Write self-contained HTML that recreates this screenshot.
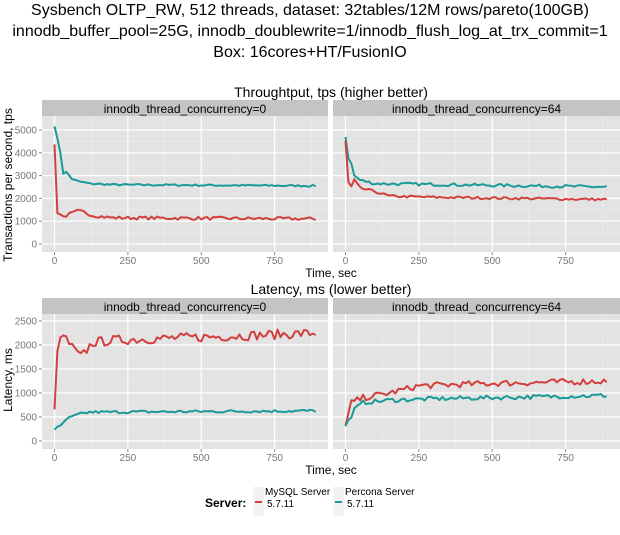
<!DOCTYPE html>
<html><head><meta charset="utf-8"><style>
body{margin:0;background:#fff;width:620px;height:530px;overflow:hidden}
text{font-family:"Liberation Sans",sans-serif}
</style></head><body>
<svg id="s" width="620" height="530" xmlns="http://www.w3.org/2000/svg">
<text x="310" y="15" font-size="16" text-anchor="middle">Sysbench OLTP_RW, 512 threads, dataset: 32tables/12M rows/pareto(100GB)</text>
<text x="310" y="36" font-size="16" text-anchor="middle">innodb_buffer_pool=25G, innodb_doublewrite=1/innodb_flush_log_at_trx_commit=1</text>
<text x="310" y="57" font-size="16" text-anchor="middle">Box: 16cores+HT/FusionIO</text>
<text x="331" y="97" font-size="14" text-anchor="middle">Throughtput, tps (higher better)</text>
<text x="331" y="294" font-size="14" text-anchor="middle">Latency, ms (lower better)</text>
<text x="331" y="277" font-size="12" text-anchor="middle">Time, sec</text>
<text x="331" y="474" font-size="12" text-anchor="middle">Time, sec</text>
<text transform="translate(12,185) rotate(-90)" font-size="12" text-anchor="middle">Transactions per second, tps</text>
<text transform="translate(12,380) rotate(-90)" font-size="12" text-anchor="middle">Latency, ms</text>
<text x="205" y="507" font-size="12" font-weight="bold">Server:</text>
<rect x="253" y="487" width="11" height="29" fill="#f2f2f2"/>
<line x1="255" y1="502" x2="262" y2="502" stroke="#d2403e" stroke-width="2"/>
<text x="265" y="495" font-size="10">MySQL Server</text>
<text x="267" y="507" font-size="10">5.7.11</text>
<rect x="333" y="487" width="11" height="29" fill="#f2f2f2"/>
<line x1="335" y1="502" x2="342" y2="502" stroke="#1a9a98" stroke-width="2"/>
<text x="345" y="495" font-size="10">Percona Server</text>
<text x="347" y="507" font-size="10">5.7.11</text>
<g id="g"></g>
</svg>
<script>
var NS="http://www.w3.org/2000/svg",g=document.getElementById("g");
function el(t,a,txt){var e=document.createElementNS(NS,t);for(var k in a)e.setAttribute(k,a[k]);if(txt!=null)e.textContent=txt;g.appendChild(e);return e;}
var seed=7;function rnd(){seed=(seed*16807)%2147483647;return seed/2147483647-0.5;}
function panel(L,W,top,bot,strip,label,ymax,ystep,y0px,yscale,ylabels,series){
 el("rect",{x:L,y:strip,width:W,height:top-strip,fill:"#c4c4c4"});
 el("text",{x:L+W/2,y:strip+13,"font-size":12,"text-anchor":"middle"},label);
 el("rect",{x:L,y:top,width:W,height:bot-top,fill:"#e3e3e3"});
 function X(t){return L+12.5+t*0.2935;}
 function Y(v){return y0px-v*yscale;}
 for(var t=125;t<=875;t+=250)el("line",{x1:X(t),x2:X(t),y1:top,y2:bot,stroke:"#f0f0f0","stroke-width":0.5});
 for(var v=ystep/2;v<=ymax;v+=ystep)el("line",{x1:L,x2:L+W,y1:Y(v),y2:Y(v),stroke:"#f0f0f0","stroke-width":0.5});
 for(var t=0;t<=750;t+=250){el("line",{x1:X(t),x2:X(t),y1:top,y2:bot,stroke:"#fff","stroke-width":1.2});
  el("line",{x1:X(t),x2:X(t),y1:bot,y2:bot+3,stroke:"#888"});
  el("text",{x:X(t),y:bot+12,"font-size":10,fill:"#777","text-anchor":"middle"},t);}
 for(var v=0;v<=ymax;v+=ystep){el("line",{x1:L,x2:L+W,y1:Y(v),y2:Y(v),stroke:"#fff","stroke-width":1.2});
  if(ylabels){el("line",{x1:L-3,x2:L,y1:Y(v),y2:Y(v),stroke:"#888"});
  el("text",{x:L-5,y:Y(v)+3.5,"font-size":10,fill:"#777","text-anchor":"end"},v);}}
 series.forEach(function(s){var d="";for(var t=0;t<=890;t+=10){var v=s.f(t)+s.n*rnd();d+=(t?"L":"M")+X(t).toFixed(1)+","+Y(v).toFixed(1);}
  el("path",{d:d,fill:"none",stroke:s.c,"stroke-width":2,"stroke-linejoin":"round"});});
}
var R="#d2403e",B="#1a9a98";
function ip(pts){return function(t){for(var i=1;i<pts.length;i++){if(t<=pts[i][0]){var a=pts[i-1],b=pts[i];return a[1]+(b[1]-a[1])*(t-a[0])/(b[0]-a[0]);}}return pts[pts.length-1][1];};}
panel(42,286,116,252,100,"innodb_thread_concurrency=0",5000,1000,244,0.0228,true,[
 {c:B,n:80,f:ip([[0,5200],[10,4600],[20,4000],[30,3100],[40,3150],[60,2850],[80,2750],[120,2650],[200,2600],[900,2550]])},
 {c:R,n:140,f:ip([[0,4350],[10,1400],[30,1200],[50,1300],[80,1450],[100,1400],[130,1250],[200,1150],[900,1100]])}]);
panel(333,287,116,252,100,"innodb_thread_concurrency=64",5000,1000,244,0.0228,false,[
 {c:B,n:130,f:ip([[0,4700],[10,3800],[20,3500],[30,3000],[50,2800],[100,2650],[900,2500]])},
 {c:R,n:110,f:ip([[0,4500],[10,2700],[20,2500],[30,2800],[50,2450],[100,2300],[150,2100],[300,2050],[900,1950]])}]);
panel(42,286,314,449,298,"innodb_thread_concurrency=0",2500,500,441,0.048,true,[
 {c:R,n:200,f:ip([[0,600],[10,1950],[30,2200],[60,1950],[90,1750],[130,2050],[200,2100],[900,2250]])},
 {c:B,n:60,f:ip([[0,250],[20,300],[40,450],[80,550],[120,600],[900,630]])}]);
panel(333,287,314,449,298,"innodb_thread_concurrency=64",2500,500,441,0.048,false,[
 {c:R,n:130,f:ip([[0,300],[20,800],[60,900],[150,1000],[250,1150],[500,1200],[900,1250]])},
 {c:B,n:90,f:ip([[0,300],[30,650],[60,800],[150,850],[300,880],[900,950]])}]);
</script>
</body></html>
